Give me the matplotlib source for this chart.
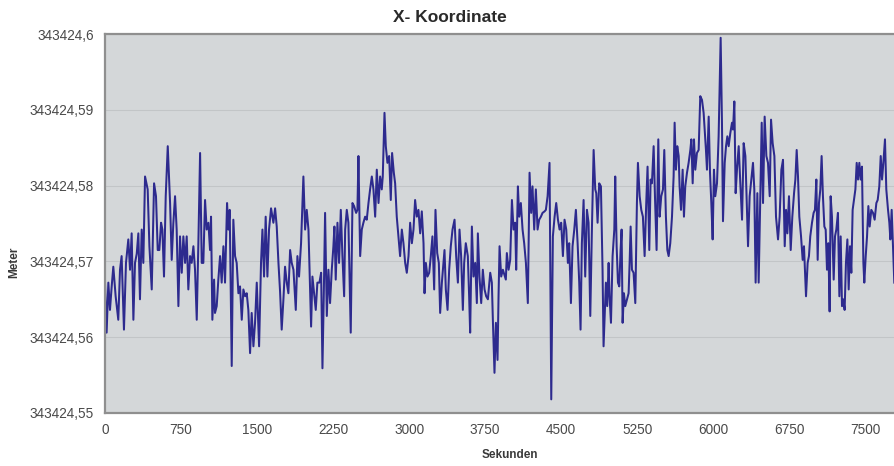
import matplotlib
matplotlib.use("Agg")
import matplotlib.pyplot as plt
import numpy as np

# Messreihe X-Koordinate: Zeit in Sekunden, Abweichung in mm über basis_m
basis_m = 343424.55

sekunden = [
    0, 16, 33, 49, 66, 82, 105, 131, 148, 164, 187, 207, 230, 247, 263, 280, 296, 313, 329, 345,
    362, 378, 395, 421, 438, 461, 484, 503, 520, 536, 553, 566, 582, 599, 619, 642, 658, 674, 691, 707,
    724, 740, 757, 773, 790, 806, 822, 839, 855, 872, 888, 905, 921, 938, 954, 970,
    987, 1003, 1020, 1036, 1046, 1059, 1076, 1085, 1102, 1118, 1135, 1151, 1168, 1184, 1204, 1217,
    1230, 1250, 1266, 1283, 1299, 1316, 1332, 1349, 1365, 1382, 1398, 1414, 1431, 1447, 1464, 1480,
    1497, 1520, 1539, 1553, 1569, 1585, 1602, 1618, 1638, 1661, 1678, 1694, 1711, 1727, 1743, 1760,
    1776, 1793, 1809, 1826, 1842, 1859, 1882, 1898, 1914, 1934, 1957,
    1974, 1990, 2007, 2023, 2033, 2046, 2063, 2079, 2095, 2115, 2132, 2145, 2158, 2171, 2188, 2204,
    2220, 2237, 2253, 2263, 2276, 2293, 2309, 2326, 2342, 2359, 2369, 2385, 2401, 2424, 2441, 2457,
    2477, 2490, 2500, 2517, 2533, 2549, 2566, 2582, 2599, 2615, 2632, 2648, 2665, 2681, 2698, 2714,
    2730, 2740, 2757, 2770, 2786, 2803, 2819, 2832, 2849, 2862, 2878, 2895, 2911, 2928, 2944,
    2961, 2977, 2994, 3010, 3027, 3043, 3059, 3076, 3092, 3109, 3125, 3142, 3152, 3165, 3181, 3198,
    3214, 3230, 3247, 3260, 3277, 3293, 3306, 3323, 3339, 3349, 3362, 3379, 3395, 3411, 3428, 3448,
    3464, 3481, 3497, 3513, 3530, 3543, 3559, 3579, 3592, 3602, 3619, 3635, 3652, 3668, 3678, 3694,
    3711, 3727, 3744, 3760, 3777, 3800, 3816, 3826, 3842, 3856, 3872, 3882, 3892, 3908, 3925,
    3954, 3964, 3981, 3997, 4014, 4030, 4046, 4056, 4073, 4086, 4102, 4119, 4135, 4152, 4171, 4188,
    4204, 4217, 4234, 4250, 4267, 4283, 4300, 4316, 4336, 4349, 4366, 4385, 4402, 4418, 4435, 4451,
    4468, 4484, 4500, 4517, 4533, 4550, 4566, 4579, 4596, 4612, 4629, 4645, 4662, 4678, 4691, 4704,
    4721, 4737, 4754, 4770, 4787, 4803, 4820, 4836, 4846, 4859, 4875, 4892, 4908, 4918,
    4941, 4954, 4968, 4977, 4991, 5007, 5024, 5033, 5047, 5060, 5073, 5086, 5096, 5106, 5119, 5132,
    5149, 5165, 5175, 5185, 5198, 5214, 5231, 5247, 5257, 5274, 5290, 5306, 5323, 5339, 5352, 5369,
    5382, 5395, 5412, 5425, 5441, 5458, 5471, 5487, 5504, 5517, 5533, 5547, 5560, 5576, 5593, 5609,
    5619, 5632, 5645, 5659, 5668, 5682, 5698, 5711, 5724, 5741, 5757, 5774, 5784, 5797, 5810, 5823,
    5839, 5856, 5872, 5889, 5905,
    5928, 5938, 5955, 5968, 5981, 5994, 6007, 6020, 6037, 6053, 6073, 6086, 6096, 6113, 6126, 6139,
    6152, 6168, 6185, 6195, 6208, 6221, 6234, 6251, 6267, 6284, 6300, 6317, 6330, 6343, 6359, 6376,
    6392, 6405, 6418, 6435, 6448, 6465, 6478, 6491, 6507, 6524, 6540, 6557, 6570, 6586, 6603, 6619,
    6639, 6655, 6672, 6688, 6705, 6718, 6731, 6747, 6764, 6780, 6797, 6810, 6823, 6836, 6849, 6866,
    6882, 6895,
    6915, 6931, 6944, 6957, 6974, 6990, 7003, 7017, 7030, 7043, 7056, 7069, 7082, 7096, 7109, 7122,
    7135, 7148, 7158, 7171, 7188, 7201, 7214, 7230, 7244, 7257, 7270, 7283, 7296, 7309, 7323, 7336,
    7349, 7362, 7375, 7388, 7402, 7415, 7428, 7441, 7454, 7467, 7481, 7490, 7504, 7517, 7530, 7543,
    7559, 7576, 7592, 7609, 7622, 7638, 7652, 7665, 7678, 7694, 7707, 7724, 7737, 7747, 7760, 7777,
    7786,
]

abweichung_mm = [
    17.2, 10.6, 17.2, 13.6, 16.7, 19.3, 15.4, 12.3, 18.9, 20.7, 11.0, 19.8, 22.9, 18.9, 23.7, 12.3, 19.8, 21.0, 23.7, 15.0,
    24.2, 19.8, 31.2, 29.5, 22.0, 16.3, 30.3, 28.6, 21.5, 21.5, 25.1, 24.2, 18.0, 28.6, 35.2, 27.7, 20.2, 25.0, 28.6, 24.2,
    14.1, 23.3, 18.5, 23.3, 19.8, 23.3, 16.3, 20.7, 19.8, 22.0, 18.9, 12.3, 22.4, 34.3, 19.8, 19.8,
    28.1, 24.2, 25.1, 21.5, 25.9, 12.3, 17.6, 13.2, 14.1, 17.6, 20.7, 17.2, 22.0, 17.2, 27.7, 24.2,
    26.8, 6.2, 25.5, 20.7, 19.8, 15.8, 16.7, 12.3, 16.3, 15.4, 15.8, 13.6, 7.9, 13.2, 8.8, 11.9,
    17.2, 8.8, 19.8, 24.2, 18.0, 25.9, 18.0, 24.2, 27.0, 25.1, 27.0, 24.6, 19.8, 16.0, 11.0, 15.0,
    19.3, 17.2, 15.8, 21.5, 19.8, 18.9, 13.6, 20.7, 18.0, 22.4, 31.2,
    24.2, 26.8, 24.2, 16.3, 11.4, 18.0, 15.8, 13.6, 17.2, 17.2, 18.5, 5.9, 15.4, 26.4, 12.8, 18.9,
    14.5, 18.9, 22.0, 24.6, 17.6, 25.1, 19.8, 26.8, 20.7, 15.4, 24.2, 26.8, 25.1, 10.6, 27.7, 27.3,
    26.4, 26.8, 33.9, 20.7, 24.2, 25.1, 25.9, 25.5, 27.7, 29.5, 31.2, 29.5, 25.9, 32.1, 27.7, 31.2,
    29.5, 31.2, 39.6, 35.2, 33.0, 33.9, 28.1, 34.3, 31.7, 30.3, 25.9, 23.3, 20.7, 24.2, 22.4,
    19.8, 18.5, 20.7, 25.1, 22.4, 24.2, 28.1, 25.9, 26.8, 23.7, 26.6, 22.4, 15.8, 19.8, 18.0, 18.5,
    20.7, 23.3, 16.3, 26.8, 21.1, 19.8, 13.2, 17.2, 19.8, 21.5, 16.3, 13.6, 18.9, 22.0, 24.2, 25.5,
    20.7, 17.2, 24.2, 20.7, 13.6, 19.8, 22.4, 20.7, 15.4, 10.6, 24.6, 18.0, 19.8, 14.5, 23.7, 18.0,
    14.5, 18.9, 16.3, 15.4, 15.0, 18.5, 17.2, 12.3, 5.3, 11.9, 7.0, 15.4, 22.0, 18.0, 18.9,
    17.6, 21.1, 18.9, 20.2, 28.1, 24.2, 25.1, 18.9, 29.9, 25.9, 27.7, 24.2, 22.4, 19.8, 14.5, 31.7,
    26.4, 29.9, 24.2, 29.5, 24.2, 25.5, 25.9, 26.4, 26.6, 26.8, 28.6, 33.0, 1.8, 23.3, 25.9, 27.7,
    25.5, 24.2, 25.1, 20.7, 25.5, 24.2, 19.8, 22.4, 14.5, 22.0, 24.2, 26.8, 22.4, 17.2, 11.0, 22.4,
    28.1, 18.0, 26.8, 25.1, 12.8, 24.2, 34.7, 29.5, 29.0, 25.1, 30.3, 29.9, 18.9, 8.8,
    17.2, 14.1, 19.8, 15.4, 11.9, 20.7, 24.2, 31.2, 22.0, 17.2, 16.7, 21.5, 24.2, 11.9, 15.8, 14.1,
    15.0, 15.8, 19.8, 24.6, 18.9, 18.5, 14.5, 27.7, 33.0, 28.6, 26.8, 25.9, 20.7, 27.7, 32.5, 21.5,
    30.8, 30.3, 35.2, 28.6, 21.5, 36.1, 25.9, 28.6, 29.5, 34.7, 25.9, 21.5, 20.7, 22.4, 25.9, 31.2,
    38.3, 32.1, 35.2, 33.9, 29.9, 26.8, 32.1, 25.9, 29.9, 31.7, 33.0, 34.7, 36.1, 30.3, 36.1, 32.1,
    34.3, 34.7, 41.8, 41.3, 39.6,
    34.7, 32.1, 39.1, 31.7, 27.7, 22.9, 32.1, 28.6, 30.3, 36.5, 49.5, 38.3, 25.3, 33.0, 35.2, 36.5,
    35.2, 36.9, 38.3, 37.4, 41.1, 29.0, 32.1, 35.2, 30.3, 25.5, 35.6, 33.9, 27.7, 22.0, 28.6, 30.8,
    33.0, 29.5, 17.2, 29.0, 17.2, 29.5, 38.3, 27.7, 39.1, 33.9, 33.0, 28.6, 38.7, 35.6, 33.9, 25.9,
    22.9, 25.9, 32.1, 33.4, 22.0, 26.8, 23.7, 28.6, 21.5, 25.9, 29.0, 30.8, 34.7, 31.2, 25.9, 23.3,
    20.2, 22.0,
    15.4, 19.8, 20.7, 23.3, 25.1, 26.4, 26.8, 30.8, 20.2, 27.7, 29.5, 33.9, 28.6, 24.6, 24.2, 18.9,
    22.4, 13.4, 28.6, 25.9, 17.6, 23.3, 24.2, 26.4, 15.4, 23.3, 14.1, 15.0, 13.6, 19.8, 22.9, 16.3,
    22.0, 18.5, 26.8, 28.1, 29.5, 33.0, 30.8, 33.0, 30.8, 32.5, 19.8, 17.2, 20.7, 23.3, 27.3, 24.6,
    26.8, 26.4, 25.5, 27.7, 28.1, 29.9, 33.9, 30.8, 33.0, 36.1, 29.5, 26.8, 25.1, 22.9, 26.8, 20.7,
    17.2,
]

x_ticks = [0, 750, 1500, 2250, 3000, 3750, 4500, 5250, 6000, 6750, 7500]
y_ticks = [343424.55, 343424.56, 343424.57, 343424.58, 343424.59, 343424.60]

plt.rcParams['font.family'] = ['Liberation Sans', 'DejaVu Sans']

meter = basis_m + np.asarray(abweichung_mm) / 1000.0

fig = plt.figure(figsize=(8.94, 4.66), dpi=100)
# Diagramm rechts abgeschnitten wie im Original
ax = fig.add_axes([105 / 894, 53 / 466, 811 / 894, 379 / 466])
ax.set_facecolor('#d4d7d9')

ax.plot(sekunden, meter, color='#2d2a8e', linewidth=1.45)

ax.set_xlim(0, 8000)
ax.set_ylim(y_ticks[0], y_ticks[-1])
ax.set_xticks(x_ticks)
ax.set_xticklabels([str(t) for t in x_ticks])
ax.set_yticks(y_ticks)
ax.set_yticklabels([("%.2f" % v).rstrip('0').replace('.', ',') for v in y_ticks])

ax.grid(axis='y', color='#c2c5c7', linewidth=0.8)
ax.set_axisbelow(True)
ax.tick_params(length=0, labelsize=9.8, labelcolor='#4a4a4a')
ax.tick_params(axis='y', pad=8)
ax.tick_params(axis='x', pad=7)
for side in ['left', 'top', 'bottom', 'right']:
    ax.spines[side].set_color('#8f8f8f')
    ax.spines[side].set_linewidth(1.6)

fig.text(450 / 894, 1 - 17 / 466, 'X- Koordinate', ha='center', va='center',
         fontsize=12.5, fontweight='bold', color='#2a2a2a')
fig.text(510 / 894, 1 - 455 / 466, 'Sekunden', ha='center', va='center',
         fontsize=8.5, fontweight='bold', color='#3a3a3a')
fig.text(14 / 894, 1 - 262 / 466, 'Meter', ha='center', va='center', rotation=90,
         fontsize=8.5, fontweight='bold', color='#3a3a3a')

fig.savefig('out.png', dpi=100)
